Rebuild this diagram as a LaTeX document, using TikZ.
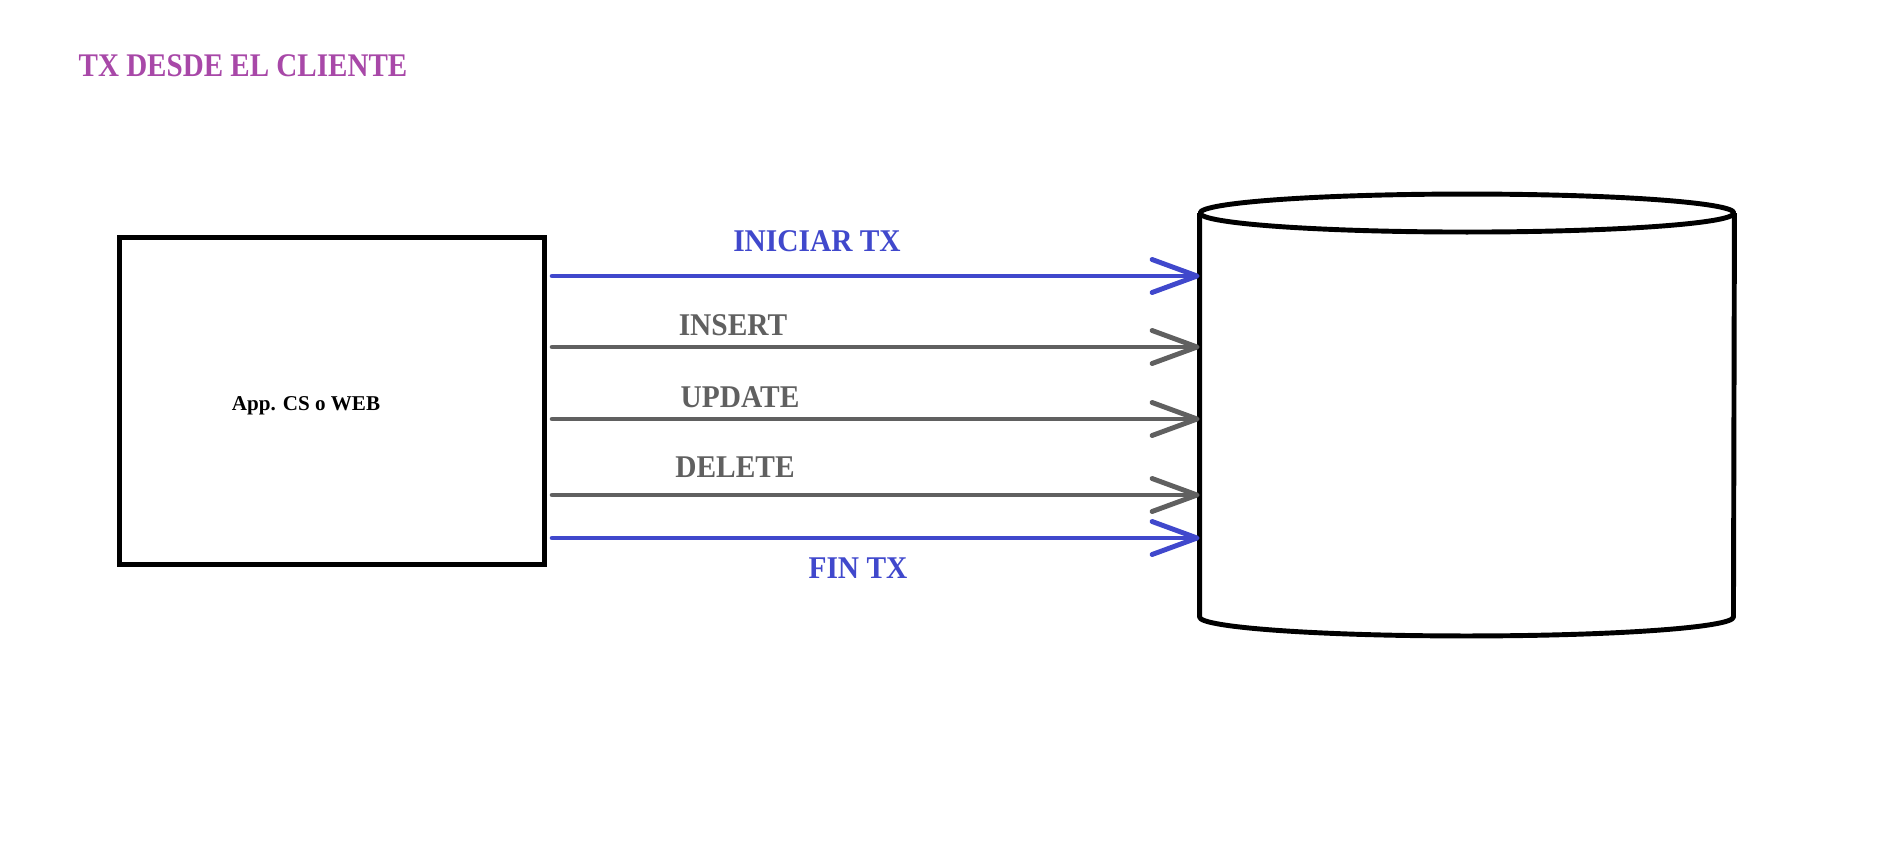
\documentclass[tikz,border=0pt]{standalone}
\usepackage{fontspec}
\setmainfont{Liberation Serif}
\newfontfamily\lblfont[FakeStretch=0.93]{Liberation Serif}
\newfontfamily\ttlfont[FakeStretch=0.88]{Liberation Serif}
\usetikzlibrary{arrows.meta}
\definecolor{txblue}{RGB}{64,72,204}
\definecolor{txgray}{RGB}{96,96,96}
\definecolor{txpurple}{RGB}{168,72,168}
\tikzset{
  msg/.style={line width=2.8pt, line cap=round, shorten <=3pt,
    -{Straight Barb[length=0.9cm,width=0.66cm,round]}},
  msglbl/.style={font=\lblfont\bfseries\fontsize{18}{20}\selectfont, inner sep=0pt},
  dbline/.style={line width=2.8pt, line join=round},
}
\begin{document}
\begin{tikzpicture}[x=0.02cm,y=-0.02cm]
\useasboundingbox (0,0) rectangle (1887,842);
\node[txpurple, font=\ttlfont\bfseries\fontsize{18.8}{20}\selectfont, inner sep=0pt] (title) at (243,66) {TX DESDE EL CLIENTE};
\node[draw, line width=2.8pt, minimum width=8.5cm, minimum height=6.54cm, inner sep=0pt] (app) at (332,401) {};
\node[font=\bfseries\fontsize{12}{14}\selectfont, inner sep=0pt] (applbl) at (306,406) {App. CS o WEB};
% base de datos
\node[minimum width=10.7cm, minimum height=8.08cm, inner sep=0pt, outer sep=0pt] (db) at (1467,415) {};
\draw[dbline] (db.north) ellipse[x radius=5.34cm, y radius=0.38cm];
\draw[dbline] (db.north west) -- (db.south west)
  arc[start angle=180, end angle=360, x radius=5.34cm, y radius=0.38cm] -- (db.north east);
\draw[msg, txblue] (app.east |- 0,276) -- (db.west |- 0,276);
\draw[msg, txgray] (app.east |- 0,347) -- (db.west |- 0,347);
\draw[msg, txgray] (app.east |- 0,419) -- (db.west |- 0,419);
\draw[msg, txgray] (app.east |- 0,495) -- (db.west |- 0,495);
\draw[msg, txblue] (app.east |- 0,538) -- (db.west |- 0,538);
\node[msglbl, txblue] (iniciar) at (817,241) {INICIAR TX};
\node[msglbl, txgray] (insert) at (733,325) {INSERT};
\node[msglbl, txgray] (update) at (740,397) {UPDATE};
\node[msglbl, txgray] (delete) at (735,467) {DELETE};
\node[msglbl, txblue] (fin) at (858,568) {FIN TX};
\end{tikzpicture}
\end{document}
